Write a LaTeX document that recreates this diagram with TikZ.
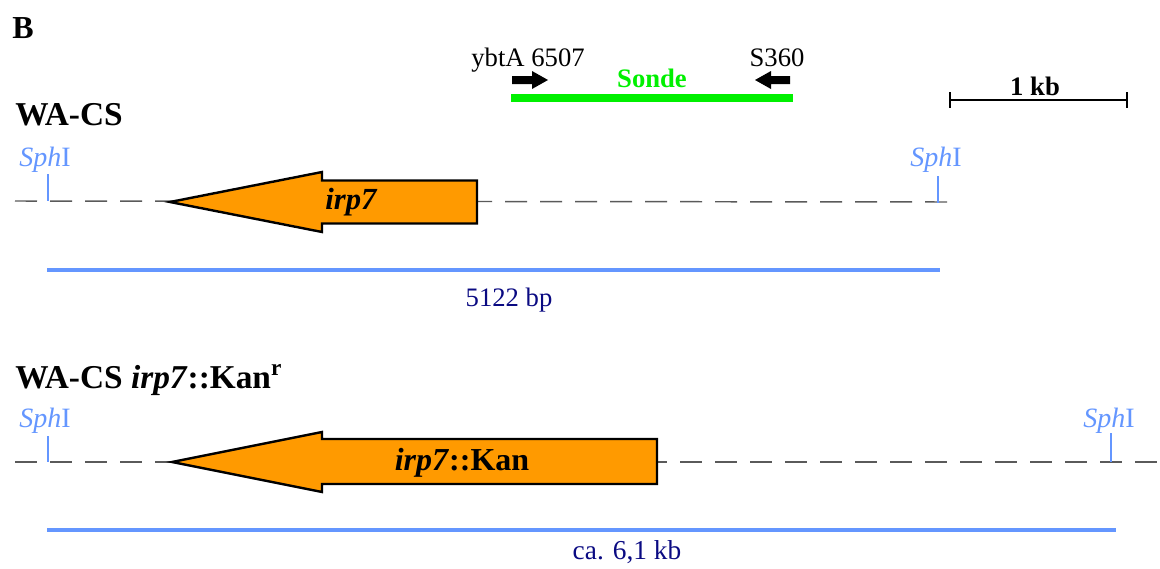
\documentclass[tikz,border=0pt]{standalone}
\usepackage{fontspec}
\setmainfont{Liberation Serif}
\definecolor{gene}{RGB}{255,154,0}
\definecolor{site}{RGB}{100,150,255}
\definecolor{navytxt}{RGB}{10,10,130}
\definecolor{probe}{RGB}{0,240,0}
\definecolor{dashgrey}{RGB}{90,90,90}
\begin{document}
\begin{tikzpicture}[x=0.75pt,y=-0.75pt,
  txt/.style={inner sep=0pt,font=\fontsize{20}{24}\selectfont},
  head/.style={inner sep=0pt,anchor=base west,font=\fontsize{25}{29}\selectfont\bfseries},
  sitelbl/.style={txt,text=site,anchor=base,font=\fontsize{21}{25}\selectfont},
  siteline/.style={draw=site,line width=1.6pt},
  dna/.style={draw=dashgrey,line width=1.1pt,dash pattern=on 16.5pt off 9.75pt},
  genebox/.style={draw=black,fill=gene,line width=1.8pt,line join=miter},
  frag/.style={draw=site,line width=3pt},
  primer/.style={fill=black,draw=none}]
\useasboundingbox (0,0) rectangle (1160,568);

% panel letter
\node[head,font=\fontsize{24}{28}\selectfont\bfseries] (B) at (12,38) {B};

% probe
\node[txt,anchor=base] (ybta) at (528,66) {ybtA 6507};
\node[txt,anchor=base] (s360) at (777,66) {S360};
\coordinate (pL) at (511,98);
\coordinate (pR) at (793,98);
\draw[probe,line width=6.5pt] (pL) -- (pR);
\node[txt,anchor=base,text=probe,font=\fontsize{20}{24}\selectfont\bfseries] (sonde) at (652,87) {Sonde};
\fill[primer] (512,76) -- (532,76) -- (532,71) -- (548,80) -- (532,89) -- (532,84) -- (512,84) -- cycle;
\fill[primer] (790,76) -- (771,76) -- (771,71) -- (755,80) -- (771,89) -- (771,84) -- (790,84) -- cycle;

% scale bar
\coordinate (sb1) at (950,100);
\coordinate (sb2) at (1127,100);
\draw[line width=1.6pt] (sb1) -- (sb2);
\draw[line width=1.6pt] (950,92) -- (950,108);
\draw[line width=1.6pt] (1127,92) -- (1127,108);
\node[txt,anchor=base,font=\fontsize{20}{24}\selectfont\bfseries] (kb) at (1035,95) {1 kb};

% ---------- WA-CS ----------
\node[head] (wacs) at (15,125) {WA-CS};
\coordinate (d1a) at (15,201);
\coordinate (d1b) at (955,202);
\draw[dna] (d1a) -- (d1b);
\node[sitelbl] (s1) at (45,166) {\textit{Sph}I};
\node[sitelbl] (s2) at (936,166) {\textit{Sph}I};
\draw[siteline] (48,174) -- (48,201);
\draw[siteline] (938,176) -- (938,203);
\draw[genebox] (170,202) -- (322,172) -- (322,180.5) -- (477,180.5) -- (477,223.5) -- (322,223.5) -- (322,232) -- cycle;
\node[txt,font=\fontsize{23}{27}\selectfont\bfseries\itshape] (irp7) at (351,202) {irp7};
\coordinate (f1a) at (47,270);
\coordinate (f1b) at (940,270);
\draw[frag] (f1a) -- (f1b);
\node[txt,anchor=base,text=navytxt] (bp) at (509,306) {5122 bp};

% ---------- WA-CS irp7::Kan ----------
\node[head] (wacsk) at (15,388) {WA-CS \textit{irp7}::Kan\textsuperscript{r}};
\coordinate (d2a) at (15,462);
\coordinate (d2b) at (1160,462);
\draw[dna] (d2a) -- (d2b);
\node[sitelbl] (s3) at (45,427) {\textit{Sph}I};
\node[sitelbl] (s4) at (1109,427) {\textit{Sph}I};
\draw[siteline] (48,436) -- (48,462);
\draw[siteline] (1111,433) -- (1111,462);
\draw[genebox] (172,462) -- (322,432) -- (322,439) -- (657,439) -- (657,484) -- (322,484) -- (322,492) -- cycle;
\node[txt,font=\fontsize{24}{28}\selectfont\bfseries] (irpk) at (462,463) {\textit{irp7}::Kan};
\coordinate (f2a) at (47,530);
\coordinate (f2b) at (1116,530);
\draw[frag] (f2a) -- (f2b);
\node[txt,anchor=base,text=navytxt,font=\fontsize{20.5}{24}\selectfont] (ca) at (627,559) {ca. 6,1 kb};
\end{tikzpicture}
\end{document}
